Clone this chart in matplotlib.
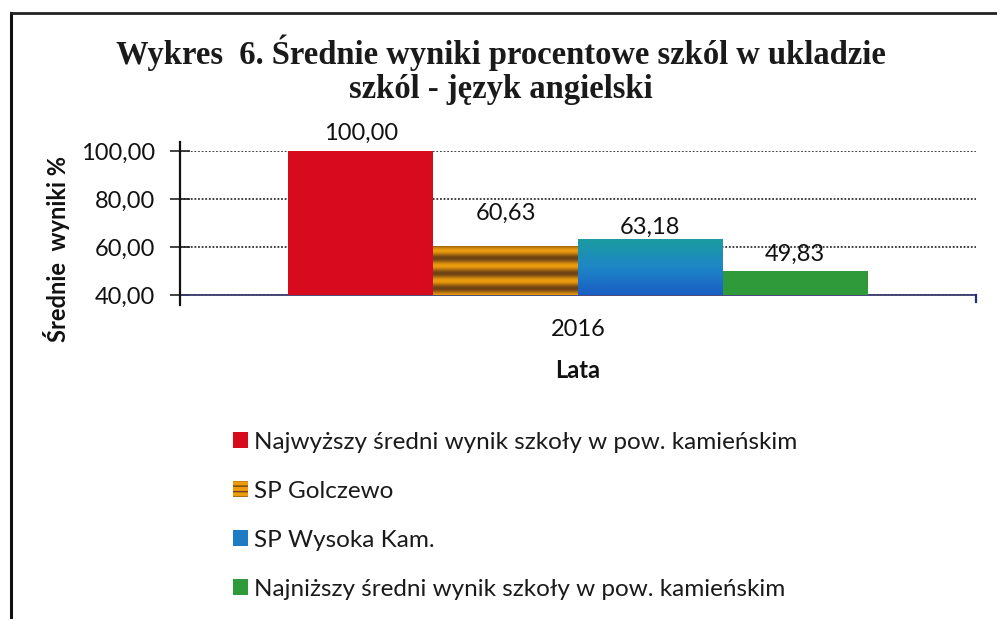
import matplotlib
matplotlib.use("Agg")
import matplotlib.pyplot as plt
import matplotlib.patches as mpatches
from matplotlib.colors import LinearSegmentedColormap
from matplotlib.lines import Line2D
import numpy as np

# ── data ──────────────────────────────────────────────────────────────────────
years   = ["2016"]
series  = ["Najwyższy średni wynik szkoły w pow. kamieńskim",
           "SP Golczewo",
           "SP Wysoka Kam.",
           "Najniższy średni wynik szkoły w pow. kamieńskim"]
values  = [100.00, 60.63, 63.18, 49.83]
yticks  = [40, 60, 80, 100]

# ── style ─────────────────────────────────────────────────────────────────────
RED    = "#D80A1E"
ORANGE = "#EC9C0E"
BROWN  = "#6E4214"
TEAL   = "#1B9CA0"
BLUE   = "#1A5EC4"
GREEN  = "#2F9A3A"
SANS   = ["Lato", "DejaVu Sans"]
SERIF  = ["Liberation Serif", "DejaVu Serif"]
label_offsets = [13, 23, 9, 12]   # pt from bar top to label centre, as in the scan

plt.rcParams["font.family"] = SANS

fig = plt.figure(figsize=(9.97, 6.19), dpi=100)
fig.patch.set_facecolor("white")
ax = fig.add_axes([0.1805, 0.5234, 0.7984, 0.2326])

# page frame (left and top edge only, as scanned)
fig.add_artist(Line2D([0.011, 0.011], [0.0, 0.979], transform=fig.transFigure,
                      color="#111111", lw=2.2))
fig.add_artist(Line2D([0.011, 1.0], [0.979, 0.979], transform=fig.transFigure,
                      color="#222222", lw=2.0))

# ── bars ──────────────────────────────────────────────────────────────────────
n = len(series)
w = 0.182
offs = (np.arange(n) - (n - 1) / 2) * w
base = yticks[0]
colors = [RED, ORANGE, BLUE, GREEN]
bars = []
for i in range(n):
    b = ax.bar(offs[i], values[i] - base, bottom=base, width=w,
               color=colors[i], edgecolor="none", zorder=3)[0]
    bars.append(b)

def texture(bar, arr, cmap):
    x0, y0 = bar.get_x(), bar.get_y()
    im = ax.imshow(arr, cmap=cmap, aspect="auto", interpolation="bilinear",
                   extent=[x0, x0 + bar.get_width(), y0, y0 + bar.get_height()],
                   origin="lower", zorder=3.5)
    im.set_clip_path(bar)

# stripes on SP Golczewo
h = bars[1].get_height()
yy = np.linspace(0, h, 300)
stripes = (0.5 + 0.5 * np.cos(2 * np.pi * (h - yy - 5.4) / 6.25))[:, None] * np.ones((1, 4))
texture(bars[1], stripes, LinearSegmentedColormap.from_list("st", [ORANGE, BROWN]))
# gradient on SP Wysoka Kam. (teal at top, blue at bottom)
grad = np.linspace(0, 1, 100)[:, None] * np.ones((1, 4))
texture(bars[2], grad, LinearSegmentedColormap.from_list("gr", [BLUE, "#1E86C6", TEAL]))

for b, v, off in zip(bars, values, label_offsets):
    ax.annotate(f"{v:.2f}".replace(".", ","),
                xy=(b.get_x() + b.get_width() / 2, b.get_y() + b.get_height()),
                xytext=(0, off), textcoords="offset points",
                ha="center", va="center", fontsize=17, color="#111111", zorder=5)

# ── axes ──────────────────────────────────────────────────────────────────────
ax.set_xlim(-0.5, 0.5)
ax.set_ylim(yticks[0], yticks[-1])
ax.set_yticks(yticks)
ax.set_yticklabels([f"{t:.2f}".replace(".", ",") for t in yticks], fontsize=17,
                   color="#111111")
ax.set_xticks([0])
ax.set_xticklabels(years, fontsize=17, color="#111111")
ax.tick_params(axis="x", length=0, pad=17)
ax.tick_params(axis="y", direction="inout", length=14, width=1.2, color="#222222", pad=11)
ax.yaxis.grid(True, color="#333333", linestyle=(0, (1, 1)), linewidth=1.3, zorder=0)
for s in ["top", "right"]:
    ax.spines[s].set_visible(False)
ax.spines["left"].set_visible(False)
ax.spines["bottom"].set_color("#3A3A70")
ax.spines["bottom"].set_linestyle((0, (1, 1)))
ax.spines["bottom"].set_linewidth(1.3)
ax.plot([0, 0], [-0.07, 1.06], transform=ax.transAxes, color="#111111",
        lw=1.6, clip_on=False, zorder=4)
ax.plot([1, 1], [0, -0.05], transform=ax.transAxes, color="#22307A",
        lw=1.6, clip_on=False, zorder=4)

ax.set_xlabel("Lata", fontsize=17, fontweight="bold", labelpad=14, color="#111111")
fig.text(0.057, 0.598, "Średnie  wyniki %", rotation=90, ha="center", va="center",
         fontsize=17, fontweight="bold", color="#111111")

# ── title ─────────────────────────────────────────────────────────────────────
fig.text(0.502, 0.915, "Wykres  6. Średnie wyniki procentowe szkól w ukladzie",
         ha="center", va="center", fontsize=23.5, fontweight="bold",
         family=SERIF, color="#1a1a1a")
fig.text(0.502, 0.856, "szkól - język angielski",
         ha="center", va="center", fontsize=23.5, fontweight="bold",
         family=SERIF, color="#1a1a1a")

# ── legend ────────────────────────────────────────────────────────────────────
handles = [
    mpatches.Patch(facecolor=RED, edgecolor="none"),
    mpatches.Patch(facecolor=ORANGE, edgecolor=BROWN, hatch="---", linewidth=0),
    mpatches.Patch(facecolor="#1E7CC4", edgecolor="none"),
    mpatches.Patch(facecolor=GREEN, edgecolor="none"),
]
leg = fig.legend(handles, series, loc="upper left", bbox_to_anchor=(0.224, 0.318),
                 frameon=False, fontsize=17.5, handlelength=0.62, handleheight=0.62,
                 handletextpad=0.25, labelspacing=1.15, borderaxespad=0)
for t in leg.get_texts():
    t.set_color("#1a1a1a")

fig.savefig("out.png", dpi=100, facecolor="white")
